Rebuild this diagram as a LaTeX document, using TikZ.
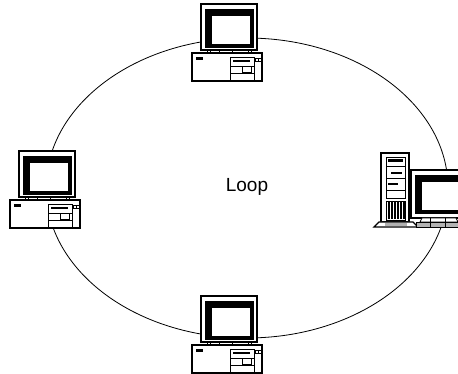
\documentclass[tikz,border=0pt]{standalone}
\usepackage{fontspec}
\setmainfont{Liberation Sans}

\tikzset{
  hw/.style={draw=black, line width=1.4pt, fill=white},
  hwthin/.style={draw=black, line width=0.7pt},
  ring/.style={draw=black, line width=0.8pt},
  % desktop PC, origin at its top-left corner
  pics/desktop/.style={code={
    \draw[hw] (9,0) rectangle (65,46);
    \draw[hwthin, fill=black] (13,5) rectangle (61,43);
    \draw[hwthin, fill=white] (19,11) rectangle (58,40);
    \draw[hwthin, fill=white] (15,46) rectangle (59,50);
    \foreach \t in {18,27,40,56}
      \draw[hwthin] (\t,46) -- (\t,50);
    \draw[hw] (0,49) rectangle (70,77);
    \fill (4,53) rectangle (11,56);
    \draw[hwthin] (38,53) -- (38,77) -- (62,77) -- (62,53) -- cycle;
    \fill (41,56) rectangle (58,58);
    \draw[hwthin] (38,62) -- (62,62) (38,69) -- (62,69);
    \draw[hwthin] (50,62) rectangle (59,68);
    \draw[hwthin] (63.5,54) rectangle (66.5,57) (66.5,54) rectangle (69,57);
  }},
  % tower PC with monitor, origin at its top-left corner
  pics/tower/.style={code={
    \draw[hw] (9,0) rectangle (37,69);
    \draw[hwthin] (14,4) rectangle (33,45);
    \fill (16,6) rectangle (31,9);
    \draw[hwthin] (14,13) -- (33,13) (14,25) -- (33,25) (14,37) -- (33,37);
    \fill (19,19) rectangle (30,21);
    \fill (16,30) rectangle (26,32);
    \draw[hwthin] (14,48) rectangle (33,67);
    \foreach \g in {16,19,...,31}
      \fill (\g,49) rectangle (\g+1.6,66);
    \draw[hw] (2,74) -- (7,69) -- (41,69) -- (46,74) -- cycle;
    \fill[gray!60] (13,70.5) rectangle (35,73);
    \draw[hw] (39,17) rectangle (98,65);
    \draw[hwthin, fill=black] (43,22) rectangle (94,60);
    \draw[hwthin, fill=white] (49,28) rectangle (91,57);
    \draw[hwthin, fill=white] (50,65) -- (84,65) -- (86,69) -- (48,69) -- cycle;
    \draw[hwthin, fill=gray!60] (44,69) rectangle (90,74);
    \foreach \t in {58,73}
      \draw[hwthin] (\t,65) -- (\t,74);
  }}
}

\begin{document}
\begin{tikzpicture}[x=1pt, y=-1pt]
    \useasboundingbox (0,0) rectangle (458,374);
    \clip (0,0) rectangle (458,374);
    % the loop
    \draw[ring] (247,188) ellipse [x radius=201, y radius=150];
    \node[font=\fontsize{19}{22}\selectfont] (loop) at (247,187) {Loop};
    % stations on the loop
    \pic (pctop) at (192,4) {desktop};
    \pic (pcleft) at (10,151) {desktop};
    \pic (pcbottom) at (192,296) {desktop};
    \pic (pcright) at (372,153) {tower};
\end{tikzpicture}
\end{document}
